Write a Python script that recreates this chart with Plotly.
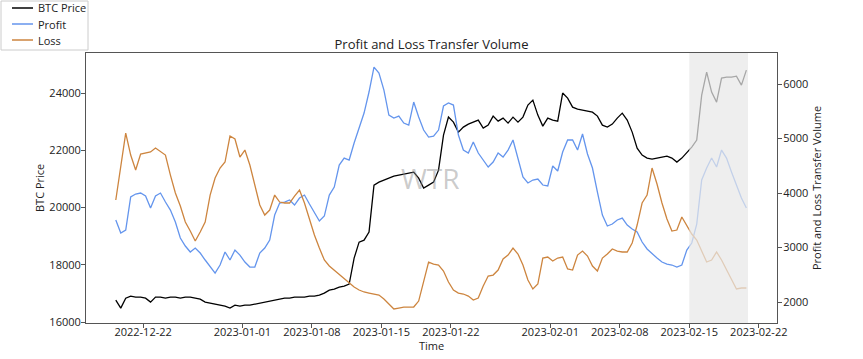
import pandas as pd
import plotly.graph_objects as go

# 12-hourly samples
times = pd.date_range("2022-12-19 06:00", periods=128, freq="12h")

btc_price = [
    16768, 16489, 16838, 16908, 16873, 16873, 16838, 16699, 16873, 16873,
    16838, 16873, 16873, 16838, 16873, 16873, 16838, 16803, 16699, 16664,
    16629, 16594, 16559, 16489, 16594, 16559, 16594, 16594, 16629, 16664,
    16699, 16734, 16768, 16803, 16838, 16838, 16873, 16873, 16873, 16908,
    16908, 16943, 17013, 17118, 17153, 17223, 17257, 17327, 18235, 18794,
    18864, 19144, 20785, 20890, 20960, 21030, 21100, 21135, 21170, 21205,
    21240, 21030, 20681, 20785, 20890, 21309, 22532, 23161, 22986, 22637,
    22811, 22916, 22986, 23056, 22776, 22881, 23196, 23021, 23126, 22951,
    23161, 22986, 23161, 23580, 23755, 23231, 22846, 23126, 23056, 23021,
    24000, 23824, 23510, 23440, 23405, 23370, 23335, 23196, 22881, 22811,
    22916, 23126, 23300, 23056, 22637, 22078, 21833, 21729, 21694, 21729,
    21763, 21798, 21729, 21589, 21729, 21903, 22113, 22357, 23929, 24733,
    24034, 23685, 24523, 24558, 24558, 24593, 24278, 24802,
]

profit = [
    3505, 3266, 3321, 3927, 3982, 4000, 3945, 3725, 3945, 4000,
    3835, 3688, 3468, 3174, 3028, 2918, 2991, 2899, 2771, 2642,
    2532, 2679, 2918, 2771, 2954, 2862, 2734, 2642, 2642, 2899,
    2991, 3138, 3596, 3817, 3835, 3872, 3780, 3908, 3963, 3798,
    3633, 3486, 3578, 3963, 4110, 4514, 4642, 4606, 4918, 5193,
    5468, 5854, 6312, 6202, 5890, 5431, 5376, 5413, 5285, 5248,
    5670, 5395, 5156, 5028, 5046, 5156, 5597, 5652, 5615, 5064,
    4789, 4734, 4936, 4734, 4606, 4477, 4569, 4734, 4661, 4789,
    4973, 4606, 4294, 4184, 4239, 4257, 4147, 4129, 4496, 4404,
    4753, 4973, 4973, 4789, 5083, 4716, 4459, 4019, 3596, 3395,
    3431, 3505, 3541, 3413, 3340, 3285, 3101, 2973, 2881, 2807,
    2734, 2697, 2679, 2642, 2679, 2954, 3083, 3431, 4239, 4459,
    4642, 4477, 4789, 4642, 4386, 4129, 3908, 3725,
]

loss = [
    3872, 4514, 5100, 4697, 4422, 4716, 4734, 4753, 4826, 4753,
    4697, 4330, 4000, 3762, 3468, 3303, 3119, 3285, 3468, 3963,
    4275, 4459, 4569, 5046, 4991, 4661, 4789, 4514, 4129, 3780,
    3596, 3688, 3963, 3835, 3817, 3817, 3945, 4055, 3817, 3505,
    3229, 2991, 2771, 2661, 2587, 2514, 2440, 2349, 2275, 2220,
    2184, 2165, 2147, 2128, 2055, 1963, 1872, 1890, 1908, 1908,
    1908, 2018, 2385, 2734, 2697, 2679, 2569, 2367, 2220, 2165,
    2147, 2110, 2037, 2073, 2294, 2477, 2495, 2587, 2789, 2862,
    2991, 2881, 2679, 2404, 2239, 2330, 2807, 2826, 2752, 2807,
    2826, 2606, 2587, 2862, 2936, 2844, 2661, 2569, 2807, 2881,
    2973, 2936, 2918, 2918, 3083, 3413, 3817, 3963, 4459, 4165,
    3817, 3523, 3303, 3321, 3560, 3413, 3248, 3138, 2936, 2734,
    2771, 2918, 2771, 2587, 2422, 2239, 2257, 2257,
]

series_names = ["BTC Price", "Profit", "Loss"]
series_colors = ["black", "cornflowerblue", "peru"]

x_tick_labels = ["2022-12-22", "2023-01-01", "2023-01-08", "2023-01-15",
                 "2023-01-22", "2023-02-01", "2023-02-08", "2023-02-15",
                 "2023-02-22"]
left_ticks = [16000, 18000, 20000, 22000, 24000]
right_ticks = [2000, 3000, 4000, 5000, 6000]

FONT = "Open Sans"
TXT = "#222222"
AX = "#555555"
W, H = 863, 359
ML, MR, MT, MB = 86, 86, 53, 36
PW, PH = W - ML - MR, H - MT - MB


def px_x(px):
    return (px - ML) / PW


def px_y(py):
    return (H - MB - py) / PH


fig = go.Figure()
for name, vals, col, ax in zip(series_names, [btc_price, profit, loss],
                               series_colors, ["y", "y2", "y2"]):
    fig.add_trace(go.Scatter(x=times, y=vals, name=name, mode="lines",
                             line=dict(color=col, width=1.3), yaxis=ax,
                             showlegend=False))

# shaded band over the last days
fig.add_shape(type="rect", xref="x", yref="paper",
              x0="2023-02-15 00:00", x1="2023-02-20 22:00", y0=0, y1=1,
              fillcolor="rgba(232,232,232,0.72)", line=dict(width=0), layer="above")

# watermark
fig.add_annotation(text="WTR", xref="paper", yref="paper", x=0.498, y=0.537,
                   showarrow=False, font=dict(family=FONT, size=28,
                                              color="rgba(140,140,140,0.45)"))

# legend box drawn in the top-left corner (matplotlib style)
fig.add_shape(type="rect", xref="paper", yref="paper",
              x0=px_x(1), x1=px_x(88), y0=px_y(50), y1=px_y(1),
              fillcolor="white", line=dict(color="#cccccc", width=1), layer="above")
for i, (name, col) in enumerate(zip(series_names, series_colors)):
    yy = 8 + 16 * i
    fig.add_shape(type="line", xref="paper", yref="paper",
                  x0=px_x(12), x1=px_x(33), y0=px_y(yy), y1=px_y(yy),
                  line=dict(color=col, width=1.5), layer="above")
    fig.add_annotation(text=name, xref="paper", yref="paper",
                       x=px_x(36), y=px_y(yy), xanchor="left", yanchor="middle",
                       showarrow=False,
                       font=dict(family=FONT, size=11, color=TXT))

# axis titles placed as in the reference
fig.add_annotation(text="BTC Price", xref="paper", yref="paper",
                   x=px_x(39), y=px_y(188), textangle=-90, showarrow=False,
                   xanchor="center", yanchor="middle",
                   font=dict(family=FONT, size=11, color=TXT))
fig.add_annotation(text="Profit and Loss Transfer Volume", xref="paper", yref="paper",
                   x=px_x(816), y=px_y(188), textangle=-90, showarrow=False,
                   xanchor="center", yanchor="middle",
                   font=dict(family=FONT, size=11, color=TXT))
fig.add_annotation(text="Time", xref="paper", yref="paper",
                   x=px_x(431), y=px_y(345), showarrow=False,
                   xanchor="center", yanchor="middle",
                   font=dict(family=FONT, size=11, color=TXT))

axis_common = dict(showline=True, linecolor=AX, linewidth=1, ticks="outside",
                   ticklen=4, tickcolor=AX, showgrid=False, zeroline=False,
                   automargin=False,
                   tickfont=dict(family=FONT, size=11, color=TXT))

fig.update_layout(
    width=W, height=H,
    margin=dict(l=ML, r=MR, t=MT, b=MB, autoexpand=False),
    paper_bgcolor="white", plot_bgcolor="white",
    font=dict(family=FONT, size=11, color=TXT),
    title=dict(text="Profit and Loss Transfer Volume", x=0.5, xanchor="center",
               y=1 - 44 / H, yanchor="middle",
               font=dict(family=FONT, size=13, color=TXT)),
    showlegend=False,
    xaxis=dict(type="date", range=["2022-12-16 06:00", "2023-02-23 20:00"],
               tickvals=x_tick_labels, ticktext=x_tick_labels, mirror=True,
               ticklabelstandoff=-5,
               **axis_common),
    yaxis=dict(range=[15970, 25400], tickvals=left_ticks,
               ticktext=[str(v) for v in left_ticks], mirror=True,
               ticklabelstandoff=-2,
               **axis_common),
    yaxis2=dict(range=[1615, 6570], tickvals=right_ticks,
                ticktext=[str(v) for v in right_ticks],
                overlaying="y", side="right", ticklabelstandoff=-1,
                **axis_common),
)

fig.write_html("out.html", config={"displayModeBar": False},
               post_script="document.body.style.margin='0';document.body.style.padding='0';")
